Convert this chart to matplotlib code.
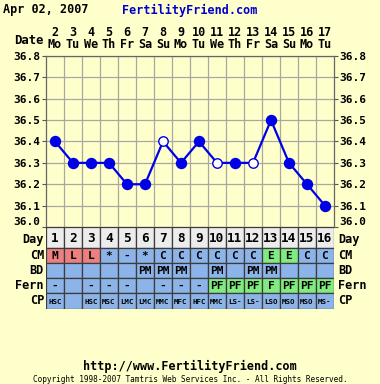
import matplotlib
matplotlib.use("Agg")
import matplotlib.pyplot as plt
from matplotlib.patches import Rectangle
from matplotlib.transforms import blended_transform_factory

# ---- data ----
days = list(range(1, 17))
dates = [2, 3, 4, 5, 6, 7, 8, 9, 10, 11, 12, 13, 14, 15, 16, 17]
weekdays = ["Mo", "Tu", "We", "Th", "Fr", "Sa", "Su", "Mo", "Tu", "We", "Th", "Fr", "Sa", "Su", "Mo", "Tu"]
temps = [36.4, 36.3, 36.3, 36.3, 36.2, 36.2, 36.4, 36.3, 36.4, 36.3, 36.3, 36.3, 36.5, 36.3, 36.2, 36.1]
open_days = [7, 10, 12]
y_ticks = [36.0, 36.1, 36.2, 36.3, 36.4, 36.5, 36.6, 36.7, 36.8]
cm = ["M", "L", "L", "*", "-", "*", "C", "C", "C", "C", "C", "C", "E", "E", "C", "C"]
bd = ["", "", "", "", "", "PM", "PM", "PM", "", "PM", "", "PM", "PM", "", "", ""]
fern = ["-", "", "-", "-", "-", "", "-", "-", "-", "PF", "PF", "PF", "F", "PF", "PF", "PF"]
cp = ["HSC", "", "HSC", "MSC", "LMC", "LMC", "MMC", "MFC", "HFC", "MMC", "LS-", "LS-", "LSO", "MSO", "MSO", "MS-"]
row_labels = ["Day", "CM", "BD", "Fern", "CP"]
title_left = "Apr 02, 2007"
title_right = "FertilityFriend.com"
footer_url = "http://www.FertilityFriend.com"
footer_copy = "Copyright 1998-2007 Tamtris Web Services Inc. - All Rights Reserved."

BG = "#ffffcc"
BLUE = "#8cb4e8"
RED = "#ec8080"
GREEN = "#80ec80"
GRAYROW = "#ececec"
MARK = "#0000e6"
FONT = "DejaVu Sans Mono"

W, H = 380, 384
fig = plt.figure(figsize=(W / 100, H / 100), dpi=100, facecolor=BG)

def fx(px):
    return px / W

def fy(py):
    return 1 - py / H

L, R, T, B = 46, 334, 56, 227
ax = fig.add_axes([fx(L), fy(B), fx(R - L), fy(T) - fy(B)], facecolor=BG)
ax.set_xlim(0.5, 16.5)
ax.set_ylim(36.0, 36.8)
ax.set_xticks([d + 0.5 for d in days[:-1]], minor=True)
ax.set_xticks([])
ax.set_yticks(y_ticks)
ax.grid(True, which="minor", axis="x", color="#a8a8a0", lw=0.9)
ax.grid(True, which="major", axis="y", color="#a8a8a0", lw=0.9)
ax.tick_params(axis="x", which="minor", length=0)
ax.tick_params(axis="y", which="major", length=3, color="#555555", left=True, right=True,
               labelleft=True, labelright=True, pad=1)
ax.set_yticklabels([f"{v:.1f}" for v in y_ticks], fontfamily=FONT, fontweight="bold", fontsize=8.0)
for lab in ax.get_yticklabels(which="both"):
    if lab.get_text() == "36.0":
        lab.set_va("bottom")
for s in ax.spines.values():
    s.set_color("#666666")
    s.set_linewidth(0.9)

ax.plot(days, temps, color=MARK, lw=1.6, zorder=3)
filled_x = [d for d, t in zip(days, temps) if d not in open_days]
filled_y = [t for d, t in zip(days, temps) if d not in open_days]
open_x = [d for d in days if d in open_days]
open_y = [t for d, t in zip(days, temps) if d in open_days]
ax.plot(filled_x, filled_y, "o", color=MARK, ms=7.2, zorder=4)
ax.plot(open_x, open_y, "o", mfc="white", mec=MARK, mew=1.0, ms=6.8, zorder=4)

# header dates
tr = blended_transform_factory(ax.transData, fig.transFigure)
for d, dt, wd in zip(days, dates, weekdays):
    ax.text(d, fy(33), str(dt), transform=tr, ha="center", va="center",
            fontfamily=FONT, fontweight="bold", fontsize=8.5)
    ax.text(d, fy(45), wd, transform=tr, ha="center", va="center",
            fontfamily=FONT, fontweight="bold", fontsize=8.5)
fig.text(fx(44), fy(40), "Date", ha="right", va="center",
         fontfamily=FONT, fontweight="bold", fontsize=8.8)

fig.text(fx(3), fy(10), title_left, ha="left", va="center",
         fontfamily=FONT, fontweight="bold", fontsize=8.5)
fig.text(fx(122), fy(10), title_right, ha="left", va="center",
         fontfamily=FONT, fontweight="bold", fontsize=8.5, color="#0000cc")

# ---- table ----
row_px = [(227, 248), (248, 263), (263, 278), (278, 293), (293, 309)]
tb = fig.add_axes([fx(L), fy(309), fx(R - L), fy(227) - fy(309)])
tb.set_xlim(0.5, 16.5)
tb.set_ylim(309, 227)
tb.axis("off")

def cell_color(row, val):
    if row == 0:
        return GRAYROW
    if row == 1:
        if val in ("M", "L"):
            return RED
        if val == "E":
            return GREEN
    if row == 3 and val in ("PF", "F"):
        return GREEN
    return BLUE

rows = [[str(d) for d in days], cm, bd, fern, cp]
sizes = [9.2, 8.0, 8.0, 8.0, 5.3]
for ri, (vals, (y0, y1)) in enumerate(zip(rows, row_px)):
    for d, v in zip(days, vals):
        tb.add_patch(Rectangle((d - 0.5, y0), 1, y1 - y0, facecolor=cell_color(ri, v),
                               edgecolor="#3c3c3c", lw=0.9))
        if v:
            tb.text(d, (y0 + y1) / 2 + 0.5, v, ha="center", va="center",
                    fontfamily=FONT, fontweight="bold", fontsize=sizes[ri])
    yc = (y0 + y1) / 2 + (2 if ri == 0 else 0)
    fig.text(fx(44), fy(yc), row_labels[ri], ha="right", va="center",
             fontfamily=FONT, fontweight="bold", fontsize=8.6)
    fig.text(fx(338), fy(yc), row_labels[ri], ha="left", va="center",
             fontfamily=FONT, fontweight="bold", fontsize=8.6)

fig.text(0.5, fy(366), footer_url, ha="center", va="center",
         fontfamily=FONT, fontweight="bold", fontsize=8.5)
fig.text(0.5, fy(379), footer_copy, ha="center", va="center",
         fontfamily=FONT, fontsize=5.6)

fig.savefig("out.png", dpi=100, facecolor=BG)
